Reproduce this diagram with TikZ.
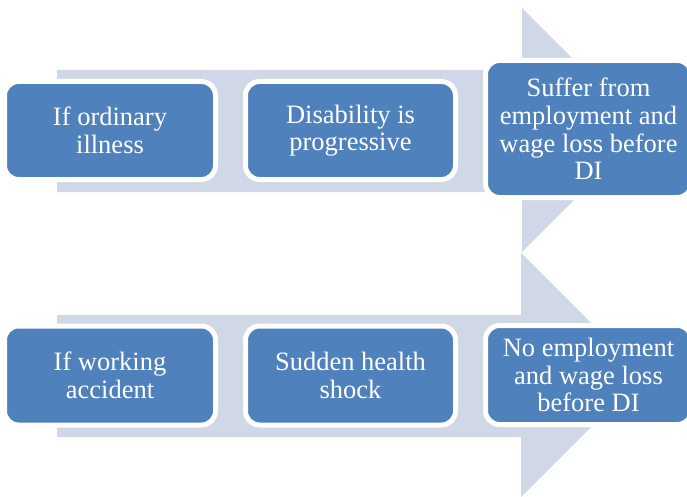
\documentclass[tikz,border=0pt]{standalone}
\usepackage{fontspec}
\setmainfont{Liberation Serif}
\definecolor{boxblue}{HTML}{4F81BD}
\definecolor{arrowgray}{HTML}{D0D8E8}
\begin{document}
\begin{tikzpicture}[x=1pt,y=-1pt,
  stagebox/.style={draw=white, line width=5pt, fill=boxblue, rounded corners=14pt,
    text=white, align=center, inner sep=0pt,
    font=\fontsize{26.5}{27.6}\selectfont},
  bigarrow/.style={fill=arrowgray, draw=none}]
\useasboundingbox (0,0) rectangle (687,497);
% big arrows
\fill[bigarrow] (57,70) -- (522,70) -- (522,8) -- (644,130) -- (522,252) -- (522,192) -- (57,192) -- cycle;
\fill[bigarrow] (57,315) -- (521,315) -- (521,253) -- (643,375) -- (521,497) -- (521,437) -- (57,437) -- cycle;
% top row
\node[stagebox, minimum width=211pt, minimum height=98pt] (a1) at (110,130.5) {If ordinary\\illness};
\node[stagebox, minimum width=210pt, minimum height=98pt] (a2) at (350.5,130.5) {Disability is\\progressive};
\node[stagebox, minimum width=206pt, minimum height=137pt] (a3) at (588.5,129) {Suffer from\\employment and\\wage loss before\\DI};
% bottom row
\node[stagebox, minimum width=211pt, minimum height=99pt] (b1) at (110,375.5) {If working\\accident};
\node[stagebox, minimum width=210pt, minimum height=99pt] (b2) at (350.5,375.5) {Sudden health\\shock};
\node[stagebox, minimum width=206pt, minimum height=99pt] (b3) at (588.5,375) {No employment\\and wage loss\\before DI};
\end{tikzpicture}
\end{document}
